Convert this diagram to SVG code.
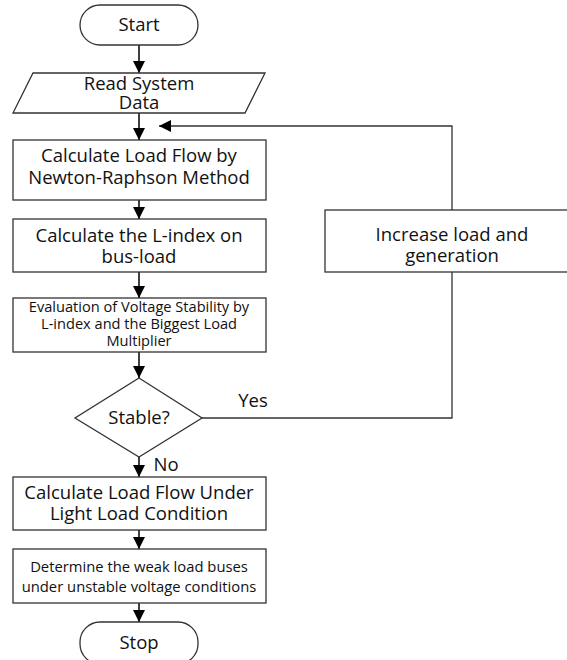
<svg xmlns="http://www.w3.org/2000/svg" width="567" height="660" viewBox="0 0 567 660">
<style>
.n{fill:#fff;stroke:#333;stroke-width:1.3}
.t{font-family:"Open Sans",Lato,sans-serif;font-size:18.5px;fill:#111;text-anchor:middle}
.s{font-size:14.6px}
.m{font-size:14.8px}
.c{fill:none;stroke:#000;stroke-width:1.5}
</style>
<defs>
<marker id="ah" markerUnits="userSpaceOnUse" markerWidth="12" markerHeight="12" viewBox="0 0 12 12" refX="12" refY="6" orient="auto">
<path d="M0,0 L12,6 L0,12 z" fill="#000"/>
</marker>
</defs>
<rect width="567" height="660" fill="#fff"/>
<g id="connectors">
<line class="c" x1="139" y1="45" x2="139" y2="73" marker-end="url(#ah)"/>
<line class="c" x1="139" y1="113" x2="139" y2="140" marker-end="url(#ah)"/>
<line class="c" x1="139" y1="200" x2="139" y2="219" marker-end="url(#ah)"/>
<line class="c" x1="139" y1="272" x2="139" y2="298" marker-end="url(#ah)"/>
<line class="c" x1="139" y1="352" x2="139" y2="378" marker-end="url(#ah)"/>
<line class="c" x1="139" y1="457" x2="139" y2="477" marker-end="url(#ah)"/>
<line class="c" x1="139" y1="530" x2="139" y2="549" marker-end="url(#ah)"/>
<line class="c" x1="139" y1="603" x2="139" y2="622" marker-end="url(#ah)"/>
<path class="c" style="stroke:#333;stroke-width:1.3" d="M202 418 H452 V126 H159" marker-end="url(#ah)"/>
</g>
<g id="start">
<rect class="n" x="80" y="5" width="118" height="40" rx="20"/>
<text class="t" x="139" y="31">Start</text>
</g>
<g id="read">
<polygon class="n" points="33,73 265,73 245,113 13,113"/>
<text class="t" x="139" y="90">Read System</text>
<text class="t" x="139" y="109">Data</text>
</g>
<g id="loadflow">
<rect class="n" x="13" y="140" width="253" height="60"/>
<text class="t" x="139" y="162">Calculate Load Flow by</text>
<text class="t" x="139" y="184">Newton-Raphson Method</text>
</g>
<g id="lindex">
<rect class="n" x="13" y="219" width="253" height="53"/>
<text class="t" x="139" y="242">Calculate the L-index on</text>
<text class="t" x="139" y="263">bus-load</text>
</g>
<g id="evaluation">
<rect class="n" x="13" y="298" width="253" height="54"/>
<text class="t s" x="139" y="312">Evaluation of Voltage Stability by</text>
<text class="t s" x="139" y="329">L-index and the Biggest Load</text>
<text class="t s" x="139" y="346">Multiplier</text>
</g>
<g id="stable">
<polygon class="n" points="139,378 202,418 139,457 75,418"/>
<text class="t" x="139" y="424">Stable?</text>
<text class="t" x="253" y="407">Yes</text>
<text class="t" x="166" y="471">No</text>
</g>
<g id="increase">
<rect class="n" x="325" y="210" width="260" height="62"/>
<text class="t" x="452" y="241">Increase load and</text>
<text class="t" x="452" y="262">generation</text>
</g>
<g id="lightload">
<rect class="n" x="13" y="477" width="253" height="53"/>
<text class="t" x="139" y="499">Calculate Load Flow Under</text>
<text class="t" x="139" y="520">Light Load Condition</text>
</g>
<g id="weak">
<rect class="n" x="13" y="549" width="253" height="54"/>
<text class="t m" x="139" y="572">Determine the weak load buses</text>
<text class="t m" x="139" y="592">under unstable voltage conditions</text>
</g>
<g id="stop">
<rect class="n" x="80" y="622" width="118" height="42" rx="20"/>
<text class="t" x="139" y="649">Stop</text>
</g>
</svg>
